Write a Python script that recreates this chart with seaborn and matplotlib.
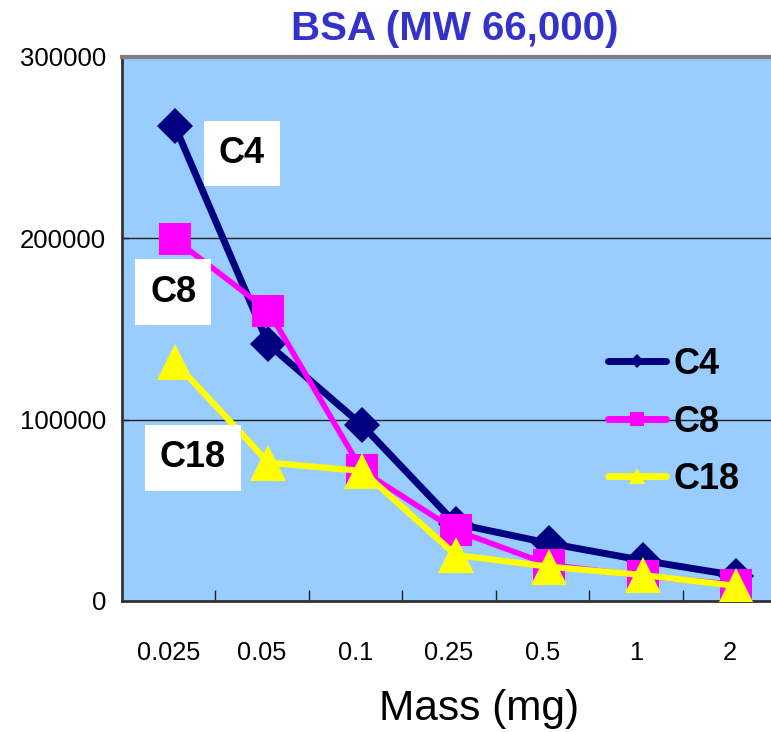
import numpy as np
import pandas as pd
import matplotlib
matplotlib.use("Agg")
import matplotlib.pyplot as plt
from matplotlib.lines import Line2D
import seaborn as sns

# Signal vs. sample mass for BSA on three column chemistries
mass_labels = ["0.025", "0.05", "0.1", "0.25", "0.5", "1", "2"]
c4_values = [262000, 141500, 97000, 42700, 31800, 22400, 14000]
c8_values = [199500, 160000, 72000, 39000, 20000, 13800, 9000]
c18_values = [131800, 76300, 71700, 25400, 18900, 14300, 8300]
series_names = ["C4", "C8", "C18"]
y_ticks = [0, 100000, 200000, 300000]

sns.set_theme(style="white")
plt.rcParams["font.family"] = ["Liberation Sans", "DejaVu Sans"]
plt.rcParams["text.color"] = "black"
plt.rcParams["xtick.color"] = "black"
plt.rcParams["ytick.color"] = "black"

colors = {"C4": "#000080", "C8": "#FF00FF", "C18": "#FFFF00"}
markers = {"C4": "D", "C8": "s", "C18": "^"}
marker_sizes = {"C4": 18.8, "C8": 23.5, "C18": 26.5}
line_widths = {"C4": 5.0, "C8": 4.0, "C18": 4.5}
legend_ms = {"C4": 6.8, "C8": 9.5, "C18": 12}

pos = np.arange(len(mass_labels))
df = pd.DataFrame({
    "pos": np.tile(pos, 3),
    "signal": c4_values + c8_values + c18_values,
    "phase": np.repeat(series_names, len(mass_labels)),
})

W, H = 771, 732
fig = plt.figure(figsize=(W / 100, H / 100), dpi=100)
left, right, top, bottom = 121.5, 776.7, 57, 601
ax = fig.add_axes([left / W, 1 - bottom / H, (right - left) / W, (bottom - top) / H])
ax.set_facecolor("#99CCFF")

for name in series_names:
    sub = df[df["phase"] == name]
    sns.lineplot(data=sub, x="pos", y="signal", ax=ax, color=colors[name],
                 linewidth=line_widths[name], marker=markers[name],
                 markersize=marker_sizes[name], markeredgewidth=0,
                 legend=False, zorder=3, sort=False)

ax.set_xlim(-0.57, 6.43)
ax.set_ylim(0, 300000)

# category labels sit midway between the boundary tick marks
ax.set_xticks(pos - 0.07)
ax.set_xticklabels(mass_labels, fontsize=18.3)
ax.set_xticks(np.arange(1, len(mass_labels)) - 0.57, minor=True)
ax.tick_params(axis="x", which="major", length=0, pad=29)
ax.tick_params(axis="x", which="minor", direction="in", length=8, width=1,
               color="#222222", bottom=True)
ax.set_yticks(y_ticks)
ax.set_yticklabels([str(v) for v in y_ticks], fontsize=18.5)
ax.tick_params(axis="y", direction="in", length=5, width=1, pad=11, left=True)
ax.set_xlabel("")
ax.set_ylabel("")

for yv in [100000, 200000]:
    ax.axhline(yv, color="#222222", linewidth=1, zorder=1)

for side in ["left", "bottom"]:
    ax.spines[side].set_color("#333333")
    ax.spines[side].set_linewidth(2)
ax.spines["top"].set_color("#808080")
ax.spines["top"].set_linewidth(3)
ax.spines["right"].set_visible(False)

# series labels in white boxes
label_pos = {"C4": (0.184, 0.822), "C8": (0.079, 0.568), "C18": (0.109, 0.263)}
for name, (xf, yf) in label_pos.items():
    ax.text(xf, yf, name, transform=ax.transAxes, ha="center", va="center",
            fontsize=26, fontweight="bold", color="black", zorder=5,
            bbox=dict(boxstyle="square,pad=0.42", facecolor="white",
                      edgecolor="none"))

handles = [Line2D([0], [0], color=colors[n], linewidth=5, marker=markers[n],
                  markersize=legend_ms[n], markeredgewidth=0) for n in series_names]
leg = fig.legend(handles, series_names, loc="center left",
                 bbox_to_anchor=(608 / W, 1 - 422 / H), frameon=False,
                 prop=dict(size=26, weight="bold"), handlelength=1.6,
                 handletextpad=0.22, labelspacing=0.62, borderpad=0,
                 borderaxespad=0)

fig.text(455 / W, 1 - 29 / H, "BSA (MW 66,000)", ha="center", va="center",
         fontsize=29, fontweight="bold", color="#3333CC")
fig.text(479 / W, 1 - 709 / H, "Mass (mg)", ha="center", va="center",
         fontsize=30.5, color="black")

fig.savefig("out.png", dpi=100, facecolor="white")
